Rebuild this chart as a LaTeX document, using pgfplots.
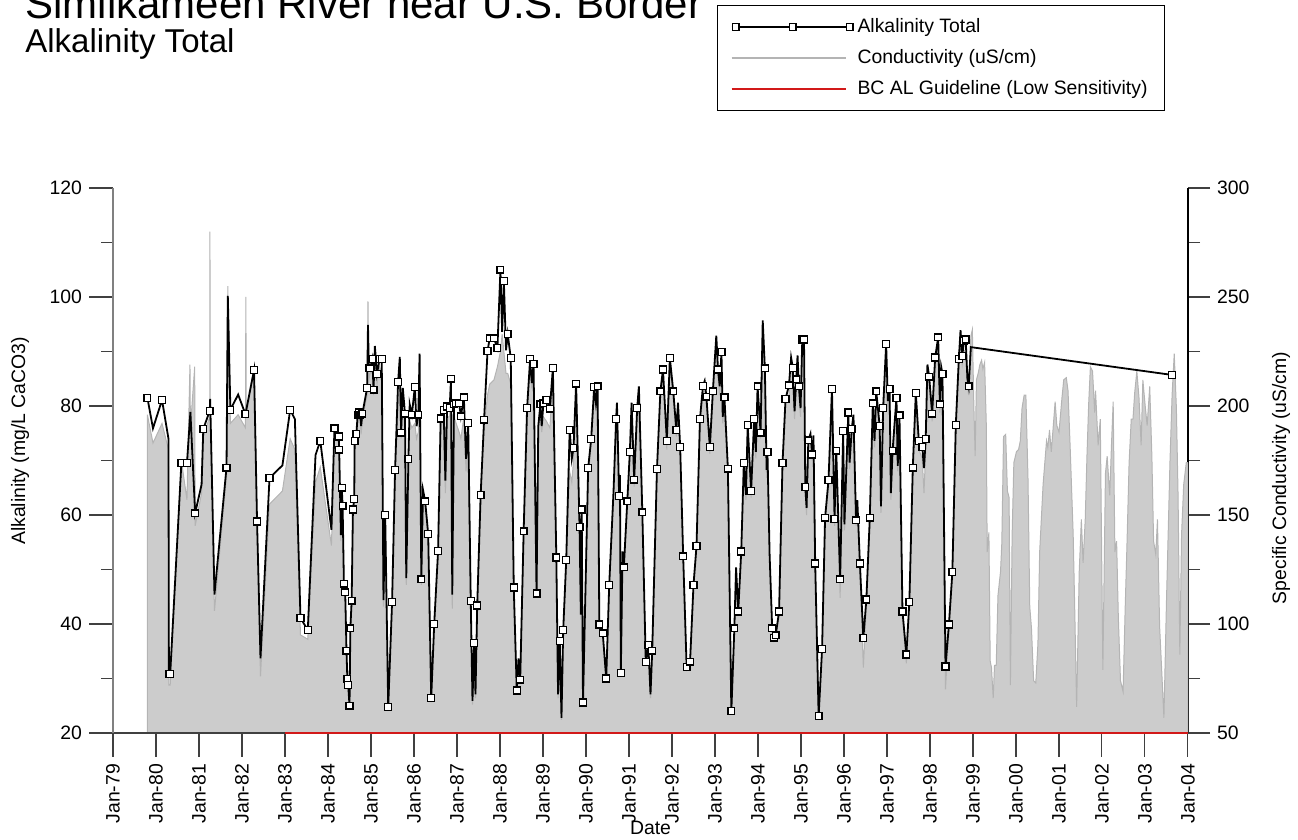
\documentclass[border=0pt]{standalone}
\usepackage{fontspec}
\setmainfont{Liberation Sans}
\usepackage{pgfplots}
\usepackage{pgfplotstable}
\pgfplotsset{compat=1.18}

\definecolor{condfill}{RGB}{204,204,204}
\definecolor{condedge}{RGB}{180,180,180}
\definecolor{guide}{RGB}{210,25,25}

\newcommand{\chartfont}{\fontsize{9.7}{11.5}\selectfont}

\pgfplotsset{
  base/.style={
    scale only axis, width=537.5pt, height=272.5pt,
    xmin=1979, xmax=2004,
    tick align=outside,
    major tick length=12pt, minor tick length=6pt,
    tick style={black!75, line width=0.6pt},
    ticklabel style={font=\chartfont},
    label style={font=\chartfont},
    /pgf/number format/assume math mode=true,
  },
}

% t = decimal year, a = alkalinity (mg/L), m = 1 where a sample marker is shown,
% c = specific conductivity (uS/cm)
\pgfplotstableread{
t a m c
1979.80 81.5 1 196
1979.93 75.9 0 183
1980.14 81.1 1 192
1980.29 74.0 0 180
1980.30 30.8 1 72
1980.33 30.8 1 72
1980.59 69.5 1 175
1980.72 69.5 1 157
1980.79 nan 0 219
1980.80 78.9 0 190
1980.90 nan 0 218
1980.91 60.3 1 145
1981.06 65.6 0 160
1981.10 75.8 1 186
1981.25 79.1 1 195
1981.255 nan 0 280
1981.26 81.3 0 200
1981.36 45.4 0 106
1981.64 68.7 1 168
1981.67 100.2 0 255
1981.73 79.3 1 192
1981.91 82.1 0 196
1982.08 78.5 1 190
1982.09 nan 0 250
1982.10 nan 0 195
1982.28 86.6 1 218
1982.35 58.8 1 145
1982.43 33.7 0 76
1982.64 66.8 1 155
1982.94 69.1 0 161
1983.12 79.3 1 185
1983.23 77.6 0 180
1983.36 41.1 1 95
1983.53 38.9 1 93
1983.71 71.0 0 165
1983.82 73.6 1 172
1984.08 57.3 0 136
1984.15 75.9 1 186
1984.25 74.4 1 183
1984.26 72.0 1 178
1984.30 56.3 0 138
1984.32 65.0 1 160
1984.34 61.7 1 152
1984.37 47.4 1 115
1984.40 45.8 1 112
1984.43 35.1 1 86
1984.45 29.9 1 73
1984.47 28.8 1 71
1984.50 25.0 1 62
1984.52 39.2 1 96
1984.55 44.3 1 108
1984.58 61.0 1 150
1984.61 62.9 1 155
1984.62 73.6 1 182
1984.66 74.9 1 185
1984.69 78.4 1 192
1984.72 78.8 1 194
1984.75 78.4 1 193
1984.77 76.3 0 187
1984.80 78.6 1 194
1984.91 83.3 1 205
1984.93 94.9 0 248
1984.95 86.9 1 212
1984.98 86.9 1 215
1985.03 88.6 1 218
1985.06 83.0 1 205
1985.09 91.0 0 225
1985.14 85.9 1 210
1985.20 88.6 1 218
1985.25 88.6 1 215
1985.29 44.4 0 108
1985.33 60.0 1 148
1985.40 24.8 1 60
1985.49 44.0 1 108
1985.56 68.3 1 168
1985.63 84.4 1 200
1985.67 89.0 0 210
1985.70 75.1 1 185
1985.74 83.3 0 200
1985.79 78.6 1 190
1985.82 48.4 0 118
1985.87 70.3 1 172
1985.90 80.3 0 193
1985.95 78.4 1 190
1986.02 83.5 1 192
1986.06 76.3 0 185
1986.10 78.4 1 188
1986.13 89.6 0 215
1986.17 48.2 1 118
1986.21 64.6 0 158
1986.26 62.5 1 155
1986.33 56.5 1 140
1986.40 26.4 1 64
1986.47 40.0 1 98
1986.56 53.4 1 132
1986.62 77.7 1 190
1986.69 79.3 1 195
1986.73 66.3 0 160
1986.77 79.9 1 195
1986.83 79.6 1 195
1986.86 85.0 1 208
1986.89 45.4 0 107
1986.93 80.3 1 195
1986.98 80.5 1 192
1987.05 80.5 1 188
1987.09 78.1 1 185
1987.16 81.6 1 195
1987.21 70.3 0 170
1987.26 76.9 1 185
1987.32 44.2 1 108
1987.36 25.9 0 63
1987.40 36.5 1 90
1987.43 27.1 0 66
1987.47 43.4 1 106
1987.55 63.7 1 158
1987.63 77.5 1 190
1987.71 90.1 1 205
1987.76 92.4 1 210
1987.86 92.4 1 212
1987.94 90.6 1 218
1988.01 105.0 1 225
1988.05 93.6 0 233
1988.09 102.9 1 225
1988.14 90.2 0 215
1988.18 93.2 1 215
1988.25 88.8 1 210
1988.32 46.7 1 115
1988.39 27.8 1 68
1988.43 33.7 0 82
1988.47 29.8 1 73
1988.55 57.0 1 142
1988.63 79.6 1 197
1988.70 88.6 1 218
1988.74 84.2 0 208
1988.78 87.7 1 215
1988.85 45.6 1 112
1988.89 76.3 0 190
1988.94 80.3 1 196
1988.97 76.3 0 188
1989.01 80.5 1 195
1989.08 81.1 1 193
1989.16 79.5 1 190
1989.23 87.0 1 212
1989.31 52.2 1 128
1989.35 27.1 0 66
1989.39 36.9 1 90
1989.43 22.8 0 56
1989.47 38.9 1 95
1989.54 51.7 1 128
1989.62 75.6 1 170
1989.67 70.3 0 165
1989.71 72.3 1 175
1989.77 84.1 1 208
1989.85 57.8 1 142
1989.88 41.7 0 102
1989.90 61.0 1 150
1989.93 25.6 1 62
1990.05 68.6 1 168
1990.12 73.9 1 182
1990.19 83.5 1 205
1990.23 80.6 0 198
1990.27 83.6 1 205
1990.31 39.9 1 98
1990.39 38.3 1 94
1990.47 30.0 1 73
1990.54 47.2 1 116
1990.64 64.3 0 158
1990.70 77.6 1 190
1990.72 80.6 0 196
1990.77 63.5 1 155
1990.79 67.3 0 165
1990.81 31.0 1 76
1990.85 53.3 0 130
1990.88 50.4 1 124
1990.96 62.5 1 155
1991.02 71.6 1 177
1991.06 80.6 0 196
1991.12 66.5 1 163
1991.19 79.6 1 195
1991.23 83.6 0 205
1991.31 60.5 1 150
1991.39 33.0 1 81
1991.45 36.1 1 89
1991.50 27.1 0 66
1991.54 35.1 1 86
1991.65 68.4 1 168
1991.73 82.7 1 205
1991.79 86.7 1 214
1991.88 73.6 1 180
1991.95 88.8 1 218
1992.03 82.7 1 203
1992.10 75.6 1 186
1992.14 80.6 0 198
1992.19 72.5 1 178
1992.26 52.4 1 130
1992.34 32.1 1 79
1992.42 33.1 1 82
1992.50 47.2 1 116
1992.57 54.3 1 134
1992.65 77.6 1 190
1992.72 83.7 1 206
1992.76 84.6 0 208
1992.80 81.7 1 200
1992.88 72.5 1 178
1992.95 82.7 1 203
1993.03 92.9 0 232
1993.07 86.7 1 213
1993.11 83.6 0 205
1993.15 89.9 1 220
1993.18 78.0 0 192
1993.22 81.6 1 200
1993.30 68.5 1 168
1993.38 24.0 1 59
1993.45 39.2 1 96
1993.49 50.4 0 124
1993.54 42.3 1 104
1993.61 53.3 1 131
1993.67 69.5 1 170
1993.72 63.7 0 157
1993.76 76.5 1 188
1993.84 64.4 1 158
1993.91 77.6 1 190
1993.95 71.6 0 176
1993.99 83.6 1 205
1994.06 75.1 1 185
1994.11 95.7 0 235
1994.16 86.9 1 212
1994.20 68.3 0 167
1994.22 71.6 1 176
1994.27 52.7 0 130
1994.33 39.2 1 96
1994.37 37.5 1 92
1994.41 37.9 1 93
1994.49 42.3 1 104
1994.57 69.5 1 170
1994.64 81.3 1 200
1994.72 83.8 1 205
1994.77 88.9 0 218
1994.81 87.0 1 213
1994.85 79.0 0 194
1994.89 84.9 1 208
1994.92 89.3 0 219
1994.95 83.6 1 205
1994.99 79.6 0 195
1995.03 92.2 1 226
1995.07 92.2 1 226
1995.10 65.1 1 160
1995.13 61.3 0 150
1995.17 73.7 1 181
1995.22 74.9 0 184
1995.26 71.1 1 175
1995.29 74.6 0 183
1995.33 51.1 1 125
1995.41 23.1 1 57
1995.49 35.4 1 87
1995.56 59.5 1 146
1995.64 66.4 1 163
1995.72 83.1 1 204
1995.78 59.3 1 145
1995.82 71.8 1 176
1995.91 48.2 1 112
1995.98 75.4 1 185
1996.01 58.3 0 143
1996.10 78.8 1 193
1996.13 69.6 0 171
1996.18 75.8 1 186
1996.22 78.4 0 192
1996.28 59.0 1 145
1996.31 62.7 0 154
1996.37 51.1 1 125
1996.45 37.4 1 80
1996.52 44.5 1 109
1996.60 59.5 1 146
1996.67 80.5 1 197
1996.71 73.6 0 181
1996.75 82.7 1 203
1996.83 76.3 1 187
1996.86 61.6 0 151
1996.91 79.6 1 195
1996.98 91.4 1 222
1997.02 80.9 0 198
1997.06 83.1 1 204
1997.09 64.0 0 157
1997.13 71.8 1 176
1997.22 81.5 1 200
1997.25 69.0 0 170
1997.29 78.3 1 192
1997.36 42.3 1 104
1997.45 34.4 1 82
1997.52 44.0 1 108
1997.60 68.7 1 168
1997.67 82.4 1 202
1997.74 73.6 1 180
1997.82 72.5 1 176
1997.86 68.6 0 160
1997.90 73.9 1 180
1997.94 87.6 0 215
1997.98 85.4 1 210
1998.05 78.6 1 193
1998.12 88.9 1 218
1998.19 92.6 1 227
1998.23 80.3 1 197
1998.26 87.2 0 214
1998.29 85.9 1 211
1998.36 32.2 1 70
1998.44 39.9 1 98
1998.52 49.5 1 121
1998.60 76.5 1 188
1998.67 88.6 1 217
1998.71 93.9 0 230
1998.75 89.2 1 219
1998.79 91.9 1 225
1998.83 92.2 1 226
1998.87 85.0 0 210
1998.90 83.6 1 205
1998.95 90.8 0 232
1998.985 nan 0 235
1999.02 nan 0 200
1999.05 nan 0 177
1999.08 nan 0 212
1999.12 nan 0 215
1999.16 nan 0 219
1999.20 nan 0 221
1999.23 nan 0 217
1999.27 nan 0 220
1999.31 nan 0 191
1999.33 nan 0 133
1999.37 nan 0 142
1999.40 nan 0 83
1999.43 nan 0 80
1999.47 nan 0 66
1999.50 nan 0 81
1999.54 nan 0 81
1999.58 nan 0 113
1999.64 nan 0 124
1999.67 nan 0 137
1999.71 nan 0 186
1999.76 nan 0 187
1999.80 nan 0 161
1999.84 nan 0 158
1999.87 nan 0 72
1999.91 nan 0 141
1999.95 nan 0 174
2000.01 nan 0 179
2000.06 nan 0 180
2000.10 nan 0 184
2000.14 nan 0 199
2000.19 nan 0 205
2000.23 nan 0 205
2000.28 nan 0 166
2000.32 nan 0 108
2000.36 nan 0 98
2000.41 nan 0 74
2000.46 nan 0 73
2000.51 nan 0 91
2000.55 nan 0 133
2000.63 nan 0 164
2000.67 nan 0 174
2000.71 nan 0 184
2000.74 nan 0 181
2000.78 nan 0 189
2000.82 nan 0 179
2000.86 nan 0 189
2000.91 nan 0 202
2000.95 nan 0 191
2001.00 nan 0 188
2001.07 nan 0 204
2001.11 nan 0 212
2001.17 nan 0 213
2001.21 nan 0 207
2001.26 nan 0 181
2001.33 nan 0 141
2001.37 nan 0 103
2001.41 nan 0 62
2001.47 nan 0 124
2001.52 nan 0 148
2001.56 nan 0 128
2001.61 nan 0 148
2001.65 nan 0 177
2001.69 nan 0 201
2001.73 nan 0 218
2001.78 nan 0 216
2001.83 nan 0 197
2001.85 nan 0 207
2001.91 nan 0 182
2001.96 nan 0 194
2002.02 nan 0 79
2002.08 nan 0 169
2002.12 nan 0 177
2002.18 nan 0 159
2002.22 nan 0 182
2002.26 nan 0 202
2002.30 nan 0 133
2002.34 nan 0 138
2002.38 nan 0 103
2002.43 nan 0 74
2002.49 nan 0 69
2002.54 nan 0 108
2002.58 nan 0 136
2002.63 nan 0 174
2002.68 nan 0 194
2002.72 nan 0 194
2002.76 nan 0 206
2002.81 nan 0 216
2002.86 nan 0 204
2002.91 nan 0 182
2002.95 nan 0 212
2003.00 nan 0 201
2003.05 nan 0 191
2003.11 nan 0 209
2003.16 nan 0 177
2003.20 nan 0 138
2003.25 nan 0 132
2003.29 nan 0 148
2003.34 nan 0 99
2003.39 nan 0 78
2003.44 nan 0 57
2003.50 nan 0 111
2003.58 nan 0 174
2003.63 85.7 1 205
2003.68 nan 0 224
2003.73 nan 0 199
2003.77 nan 0 158
2003.81 nan 0 86
2003.85 nan 0 141
2003.90 nan 0 164
2003.96 nan 0 174
2004.00 nan 0 174
}\wq

\begin{document}
\begin{tikzpicture}
\path[use as bounding box] (-56.5pt,-53.5pt) rectangle (592.5pt,366.5pt);

% conductivity on the right-hand axis, drawn first so it sits underneath
\begin{axis}[base,
  axis x line=none, axis y line*=right,
  ymin=50, ymax=300, ytick={50,100,...,300}, minor ytick={75,125,...,275},
  major tick length=11pt,
  y axis line style={black, line width=0.7pt},
  ylabel={Specific Conductivity (uS/cm)},
  ylabel style={at={(axis description cs:1,0.468)}, yshift=-46.5pt, anchor=center},
]
\addplot[fill=condfill, draw=condedge, line width=0.5pt, forget plot]
  table[x=t, y=c] {\wq} \closedcycle;
\end{axis}

% alkalinity on the left-hand axis
\begin{axis}[base, name=alk, clip=false,
  axis x line*=bottom, axis y line*=left,
  ymin=20, ymax=120, ytick={20,40,...,120}, minor y tick num=1,
  xtick={1979,...,2004}, minor x tick num=1,
  xticklabels={Jan-79,Jan-80,Jan-81,Jan-82,Jan-83,Jan-84,Jan-85,Jan-86,Jan-87,
    Jan-88,Jan-89,Jan-90,Jan-91,Jan-92,Jan-93,Jan-94,Jan-95,Jan-96,Jan-97,
    Jan-98,Jan-99,Jan-00,Jan-01,Jan-02,Jan-03,Jan-04},
  xticklabel style={rotate=90, anchor=east},
  x axis line style={black!75, line width=0.7pt},
  y axis line style={black!50, line width=0.7pt},
  xlabel={Date},
  xlabel style={at={(axis description cs:0.5,0)}, yshift=-47.5pt, anchor=center},
  ylabel={Alkalinity (mg/L CaCO3)},
  ylabel style={at={(axis description cs:0,0.536)}, yshift=46.5pt, anchor=center},
  legend style={at={(0.5619,1.3358)}, anchor=north west, draw=black,
    line width=0.6pt, fill=white, inner xsep=6.5pt, inner ysep=4.5pt,
    font=\chartfont, row sep=3pt,
    /tikz/every even column/.append style={column sep=6.5pt}},
  legend cell align=left,
]
\addplot[guide, line width=0.9pt, forget plot] coordinates {(1983,20) (2004,20)};
\addplot[black, line width=0.9pt, forget plot] table[x=t, y=a] {\wq};
\addplot[only marks, mark=square*, mark size=1.7pt,
  mark options={fill=white, draw=black, line width=0.65pt},
  restrict expr to domain={\thisrow{m}}{0.5:1.5}, forget plot]
  table[x=t, y=a] {\wq};

\addlegendimage{legend image code/.code={
  \draw[black, line width=0.9pt] (0pt,0pt) -- (57pt,0pt);
  \node[draw=black, fill=white, line width=0.6pt, inner sep=0pt, minimum size=3.4pt] at (0pt,0pt) {};
  \node[draw=black, fill=white, line width=0.6pt, inner sep=0pt, minimum size=3.4pt] at (28.5pt,0pt) {};
  \node[draw=black, fill=white, line width=0.6pt, inner sep=0pt, minimum size=3.4pt] at (57pt,0pt) {};}}
\addlegendimage{legend image code/.code={\draw[draw=condedge, line width=0.8pt] (0pt,0pt) -- (57pt,0pt);}}
\addlegendimage{legend image code/.code={\draw[draw=guide, line width=0.9pt] (0pt,0pt) -- (57pt,0pt);}}
\legend{Alkalinity Total, Conductivity (uS/cm), BC AL Guideline (Low Sensitivity)}
\end{axis}

\node[anchor=base west, inner sep=0pt, font=\fontsize{21}{25}\selectfont]
  at (-44pt,357pt) {Similkameen River near U.S. Border};
\node[anchor=base west, inner sep=0pt, font=\fontsize{16.5}{19}\selectfont]
  at (-44pt,340pt) {Alkalinity Total};
\end{tikzpicture}
\end{document}
